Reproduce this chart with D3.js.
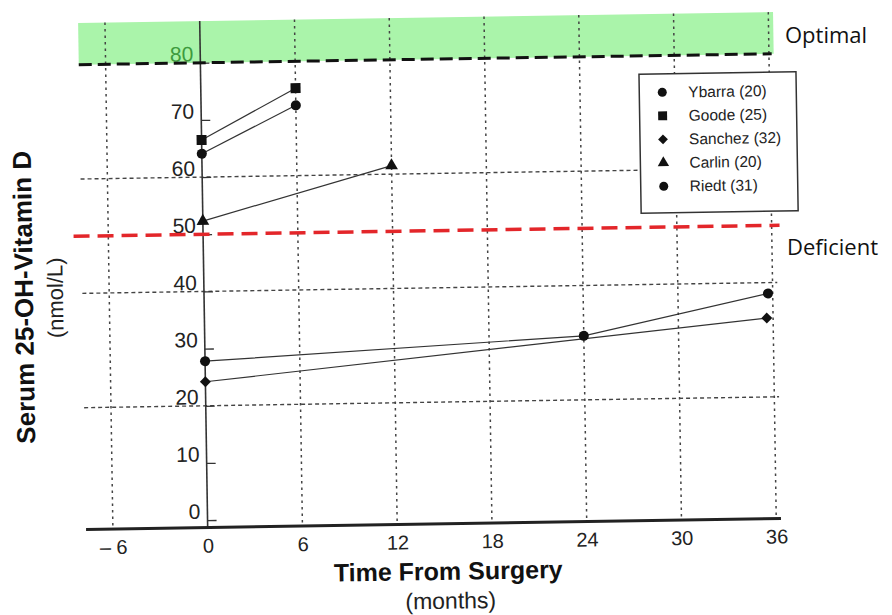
<!DOCTYPE html>
<meta charset="utf-8">
<head>
<style>
  body { margin: 0; background: #fff; }
  svg { display: block; font-family: 'Liberation Sans', Arial, sans-serif; }
  .note { font-family: 'Open Sans', 'Noto Sans', sans-serif; font-size: 22px; fill: #111; }
</style>
</head>
<body>
<svg id="chart" width="892" height="615"></svg>
<script src="https://d3js.org/d3.v7.min.js"></script>
<script>

// ---- data ----
var seriesNames = ["Ybarra (20)", "Goode (25)", "Sanchez (32)", "Carlin (20)", "Riedt (31)"];
var seriesSymbols = ["circle", "square", "diamond", "triangle", "circle"];

var ybarraMonths = [0, 6],          ybarraValues = [64.1, 72.3];
var goodeMonths = [0, 6],           goodeValues = [66.5, 75.3];
var sanchezMonths = [0, 35.6],      sanchezValues = [24.2, 33.8];
var carlinMonths = [0, 12],         carlinValues = [52.3, 61.5];
var riedtMonths = [0, 24, 35.7],    riedtValues = [27.8, 31.2, 38.1];

var xTicks = [-6, 0, 6, 12, 18, 24, 30, 36];
var xTickLabels = ["\u2013 6", "0", "6", "12", "18", "24", "30", "36"];
var yTicks = [0, 10, 20, 30, 40, 50, 60, 70, 80];
var yGrid = [20, 40, 60];

var optimalLevel = 80, deficientLevel = 50;

var allSeries = [
  {months: ybarraMonths, values: ybarraValues},
  {months: goodeMonths, values: goodeValues},
  {months: sanchezMonths, values: sanchezValues},
  {months: carlinMonths, values: carlinValues},
  {months: riedtMonths, values: riedtValues}
];

// ---- scales ----
var xMin = -7.7, xMax = 36.3, yTopVal = 87.3, yAxisBottom = -1.3;
var x = d3.scaleLinear().domain([xMin, xMax]).range([82.5, 777.5]);
var y = d3.scaleLinear().domain([0, 80]).range([516.6, 59.2]);

var svg = d3.select("#chart");

// the figure is a slightly tilted scan
var g = svg.append("g").attr("transform", "rotate(-0.9, 430, 300)");

// optimal band
g.append("rect")
    .attr("x", x(xMin))
    .attr("y", y(yTopVal))
    .attr("width", x(xMax) - x(xMin))
    .attr("height", y(optimalLevel) - y(yTopVal))
    .style("fill", "#aaf4aa");

// grid
g.selectAll(".hgrid")
    .data(yGrid)
  .enter().append("line")
    .attr("x1", x(xMin)).attr("x2", x(xMax))
    .attr("y1", function(d) { return y(d); })
    .attr("y2", function(d) { return y(d); })
    .style("stroke", "#444")
    .style("stroke-width", 1.4)
    .style("stroke-dasharray", "4,3");

g.selectAll(".vgrid")
    .data(xTicks.filter(function(d) { return d !== 0; }))
  .enter().append("line")
    .attr("x1", function(d) { return x(d); })
    .attr("x2", function(d) { return x(d); })
    .attr("y1", y(yTopVal)).attr("y2", y(yAxisBottom))
    .style("stroke", "#444")
    .style("stroke-width", 1.5)
    .style("stroke-dasharray", "2.5,4");

// y axis
var yAxis = d3.axisLeft(y).tickValues(yTicks).tickSize(-9).tickPadding(7);
var ya = g.append("g")
    .attr("transform", "translate(" + x(0) + ",0)")
    .call(yAxis);
ya.select(".domain").remove();
ya.selectAll(".tick line").style("stroke", "#333").style("stroke-width", 1.3);
ya.selectAll(".tick text")
    .attr("dy", 0).attr("y", -2)
    .style("font-size", "21px")
    .style("fill", function(d) { return d === optimalLevel ? "#3d9b3d" : "#222"; });

g.append("line")
    .attr("x1", x(0)).attr("x2", x(0))
    .attr("y1", y(yTopVal)).attr("y2", y(yAxisBottom))
    .style("stroke", "#333")
    .style("stroke-width", 1.6);

// x axis
var xAxis = d3.axisBottom(x).tickValues(xTicks).tickSize(0)
    .tickFormat(function(d, i) { return xTickLabels[i]; });
var xa = g.append("g")
    .attr("transform", "translate(0," + y(yAxisBottom) + ")")
    .call(xAxis);
xa.select(".domain").remove();
xa.selectAll(".tick text")
    .attr("dy", 0).attr("y", 25)
    .style("font-size", "20px")
    .style("fill", "#222");

g.append("line")
    .attr("x1", x(xMin)).attr("x2", x(xMax))
    .attr("y1", y(yAxisBottom)).attr("y2", y(yAxisBottom))
    .style("stroke", "#222")
    .style("stroke-width", 3);

// threshold lines
g.append("line")
    .attr("x1", x(xMin)).attr("x2", x(xMax) - 2)
    .attr("y1", y(optimalLevel)).attr("y2", y(optimalLevel))
    .style("stroke", "#111")
    .style("stroke-width", 3)
    .style("stroke-dasharray", "13,6");

g.append("line")
    .attr("x1", x(-8.2)).attr("x2", x(36.5))
    .attr("y1", y(deficientLevel)).attr("y2", y(deficientLevel))
    .style("stroke", "#e3262a")
    .style("stroke-width", 3.5)
    .style("stroke-dasharray", "16,8");

// markers
var diamond = {
  draw: function(ctx, size) {
    var r = Math.sqrt(size / 2);
    ctx.moveTo(0, -r); ctx.lineTo(r, 0); ctx.lineTo(0, r); ctx.lineTo(-r, 0); ctx.closePath();
  }
};
function symbolFor(name, size) {
  var t = name === "square" ? d3.symbolSquare
        : name === "diamond" ? diamond
        : name === "triangle" ? d3.symbolTriangle
        : d3.symbolCircle;
  return d3.symbol().type(t).size(size)();
}
var markerSize = {circle: 80, square: 100, diamond: 60, triangle: 70};

var line = d3.line()
    .x(function(d) { return x(d[0]); })
    .y(function(d) { return y(d[1]); });

allSeries.forEach(function(s, i) {
  var pts = s.months.map(function(m, j) { return [m, s.values[j]]; });
  g.append("path")
      .datum(pts)
      .attr("d", line)
      .style("fill", "none")
      .style("stroke", "#333")
      .style("stroke-width", 1.2);
  g.selectAll(".pt" + i)
      .data(pts)
    .enter().append("path")
      .attr("transform", function(d) { return "translate(" + x(d[0]) + "," + y(d[1]) + ")"; })
      .attr("d", symbolFor(seriesSymbols[i], markerSize[seriesSymbols[i]]))
      .style("fill", "#111");
});

// legend
var legend = g.append("g").attr("transform", "translate(642.5,77.5)");
legend.append("rect")
    .attr("width", 157).attr("height", 139)
    .style("fill", "#fff")
    .style("stroke", "#333")
    .style("stroke-width", 1.5);
var rows = legend.selectAll(".row")
    .data(seriesNames)
  .enter().append("g")
    .attr("transform", function(d, i) { return "translate(0," + (18.5 + i * 23.5) + ")"; });
rows.append("path")
    .attr("transform", "translate(23,0)")
    .attr("d", function(d, i) { return symbolFor(seriesSymbols[i], markerSize[seriesSymbols[i]] * 0.8); })
    .style("fill", "#111");
rows.append("text")
    .attr("x", 49)
    .attr("dy", "0.35em")
    .style("font-size", "15.5px")
    .style("fill", "#222")
    .text(function(d) { return d; });

// axis titles
g.append("text")
    .attr("x", 444).attr("y", 580)
    .attr("text-anchor", "middle")
    .style("font-size", "25px")
    .style("font-weight", "bold")
    .style("fill", "#111")
    .text("Time From Surgery");
g.append("text")
    .attr("x", 446).attr("y", 609)
    .attr("text-anchor", "middle")
    .style("font-size", "23px")
    .style("fill", "#222")
    .text("(months)");

g.append("text")
    .attr("transform", "translate(33,291) rotate(-90)")
    .attr("text-anchor", "middle")
    .style("font-size", "26px")
    .style("font-weight", "bold")
    .style("fill", "#111")
    .text("Serum 25-OH-Vitamin D");
g.append("text")
    .attr("transform", "translate(63,292) rotate(-90)")
    .attr("text-anchor", "middle")
    .style("font-size", "22px")
    .style("fill", "#222")
    .text("(nmol/L)");

// annotations added on top of the scan
svg.append("text").attr("class", "note").attr("x", 785).attr("y", 43).text("Optimal");
svg.append("text").attr("class", "note").attr("x", 787).attr("y", 255).text("Deficient");

</script>
</body>
